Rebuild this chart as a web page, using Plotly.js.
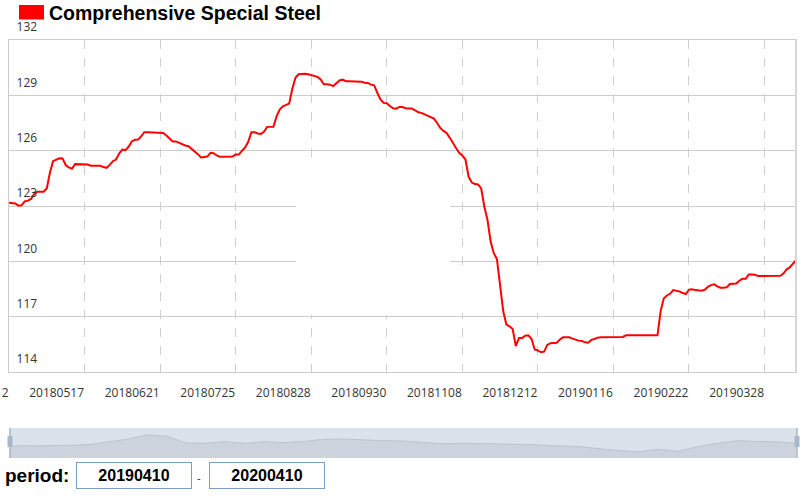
<!DOCTYPE html>
<html>
<head>
<meta charset="utf-8">
<script src="https://cdn.plot.ly/plotly-3.0.1.min.js"></script>
<style>
  html, body { margin: 0; padding: 0; background: #ffffff; }
  #chart { width: 809px; height: 498px; }
</style>
</head>
<body>
<div id="chart"></div>
<script>
// ---------------- data ----------------
const seriesName = "Comprehensive Special Steel";
const periodStart = "20190410";
const periodEnd = "20200410";

// trading-day index of each x tick, and its label
const tickIndex = [0, 24, 48, 72, 96, 120, 144, 168, 192, 216, 240];
const tickLabels = ["20180412", "20180517", "20180621", "20180725", "20180828", "20180930",
                    "20181108", "20181212", "20190116", "20190222", "20190328"];
const yTicks = [114, 117, 120, 123, 126, 129, 132];

// daily index values (one per trading day)
const values = [
  123.18, 123.18, 123.14, 123.02, 123.04, 123.25, 123.29, 123.38, 123.65, 123.77,
  123.77, 123.77, 123.95, 124.80, 125.43, 125.52, 125.59, 125.58, 125.22, 125.09,
  125.02, 125.27, 125.27, 125.27, 125.27, 125.25, 125.18, 125.18, 125.18, 125.18,
  125.11, 125.07, 125.23, 125.43, 125.52, 125.85, 126.06, 126.03, 126.21, 126.50,
  126.59, 126.60, 126.78, 127.00, 127.00, 127.00, 127.00, 127.00, 127.00, 126.96,
  126.82, 126.64, 126.50, 126.50, 126.42, 126.33, 126.28, 126.24, 126.10, 125.99,
  125.81, 125.63, 125.67, 125.68, 125.88, 125.86, 125.74, 125.67, 125.67, 125.67,
  125.67, 125.68, 125.79, 125.79, 125.99, 126.17, 126.48, 127.00, 127.00, 126.93,
  126.91, 127.02, 127.29, 127.30, 127.30, 127.86, 128.23, 128.41, 128.50, 128.55,
  129.36, 129.95, 130.14, 130.17, 130.17, 130.14, 130.10, 130.05, 130.00, 129.86,
  129.60, 129.60, 129.58, 129.50, 129.63, 129.81, 129.85, 129.77, 129.77, 129.77,
  129.77, 129.77, 129.74, 129.68, 129.67, 129.58, 129.54, 129.14, 128.78, 128.59,
  128.57, 128.42, 128.30, 128.28, 128.37, 128.37, 128.30, 128.28, 128.28, 128.19,
  128.08, 128.05, 127.97, 127.86, 127.79, 127.74, 127.50, 127.23, 127.07, 126.96,
  126.71, 126.39, 126.14, 125.88, 125.74, 125.52, 124.59, 124.28, 124.19, 124.17,
  123.95, 122.96, 122.24, 121.07, 120.44, 120.12, 118.64, 117.29, 116.57, 116.48,
  116.33, 115.40, 115.85, 115.85, 115.97, 115.99, 115.79, 115.22, 115.17, 115.07,
  115.10, 115.47, 115.56, 115.56, 115.59, 115.76, 115.88, 115.88, 115.88, 115.81,
  115.74, 115.70, 115.68, 115.61, 115.59, 115.74, 115.79, 115.86, 115.88, 115.88,
  115.88, 115.88, 115.88, 115.88, 115.88, 115.90, 115.99, 115.99, 115.99, 115.99,
  115.99, 115.99, 115.99, 115.99, 115.99, 115.99, 115.99, 117.30, 117.99, 118.15,
  118.24, 118.44, 118.42, 118.37, 118.28, 118.23, 118.46, 118.48, 118.44, 118.41,
  118.41, 118.46, 118.62, 118.71, 118.75, 118.64, 118.57, 118.57, 118.59, 118.77,
  118.78, 118.80, 118.95, 119.05, 119.05, 119.29, 119.29, 119.27, 119.20, 119.20,
  119.20, 119.20, 119.20, 119.20, 119.20, 119.22, 119.34, 119.56, 119.67, 119.86,
  120.06
];

// overview series drawn in the zoom slider (coarse, read from the slider silhouette)
const overviewValues = [
  116.0, 116.0, 116.3, 116.9, 117.8, 121.3, 124.9, 130.7, 129.3, 120.0,
  119.6, 121.8, 119.6, 121.8, 120.5, 122.2, 124.9, 125.3, 124.0, 123.1,
  122.7, 121.3, 119.1, 119.6, 118.7, 118.7, 118.2, 117.3, 116.4, 115.1,
  112.4, 109.8, 108.4, 111.6, 108.9, 115.1, 119.6, 123.1, 122.2, 121.8,
  119.6
];

// ---------------- layout helpers ----------------
const W = 809, H = 498;
const M = { l: 9, r: 13, t: 40, b: 40 };
const PW = W - M.l - M.r, PH = H - M.t - M.b;
const px = x => (x - M.l) / PW;          // pixel x -> paper x
const py = y => (H - M.b - y) / PH;      // pixel y -> paper y

const FONT_AX = "'Open Sans', 'DejaVu Sans', sans-serif";
const FONT_B = "'Liberation Sans', Arial, sans-serif";

const mainTrace = {
  type: "scatter", mode: "lines", name: seriesName,
  x: values.map((_, i) => i), y: values,
  xaxis: "x", yaxis: "y",
  line: { color: "#ff0000", width: 2 },
  hoverinfo: "skip"
};

const overviewTrace = {
  type: "scatter", mode: "lines",
  x: overviewValues.map((_, i) => i), y: overviewValues,
  xaxis: "x2", yaxis: "y2",
  fill: "tozeroy", fillcolor: "#cdd3dc",
  line: { color: "#bcc4cf", width: 1 },
  hoverinfo: "skip"
};

const mask = (x0, x1, y0, y1) => ({
  type: "rect", xref: "paper", yref: "paper", layer: "above",
  x0: px(x0), x1: px(x1), y0: py(y1), y1: py(y0),
  fillcolor: "#ffffff", line: { width: 0 }
});

const layout = {
  width: W, height: H,
  margin: M,
  paper_bgcolor: "#ffffff", plot_bgcolor: "rgba(0,0,0,0)",
  showlegend: false,
  xaxis: {
    domain: [0, 1], anchor: "y",
    range: [0, values.length - 1],
    tickmode: "array", tickvals: tickIndex, ticktext: tickLabels,
    showgrid: true, gridcolor: "#cfcfcf", griddash: "dash", gridwidth: 1,
    showline: true, mirror: true, linecolor: "#cccccc", linewidth: 1,
    zeroline: false, ticks: "",
    ticklabelposition: "outside left", ticklabeloverflow: "allow",
    ticklabelstandoff: 10,
    tickfont: { family: FONT_AX, size: 12, color: "#333333" },
    fixedrange: true
  },
  yaxis: {
    domain: [py(372), 1], anchor: "x",
    range: [114, 132],
    tickmode: "array", tickvals: yTicks,
    showgrid: true, gridcolor: "#cccccc", gridwidth: 1,
    showline: true, mirror: true, linecolor: "#cccccc", linewidth: 1,
    zeroline: false, ticks: "",
    ticklabelposition: "inside", ticklabeloverflow: "allow",
    ticklabelshift: -13, ticklabelstandoff: 7,
    tickfont: { family: FONT_AX, size: 12, color: "#333333" },
    fixedrange: true
  },
  xaxis2: {
    domain: [0, 1], anchor: "y2",
    range: [0, overviewValues.length - 1],
    visible: false, fixedrange: true
  },
  yaxis2: {
    domain: [0, py(428)], anchor: "x2",
    range: [100, 140],
    visible: false, fixedrange: true
  },
  shapes: [
    // faded tooltip areas that cover the grid (kept clear of the line)
    mask(296, 450, 157, 315),
    mask(453, 495, 268, 313),
    mask(508, 545, 268, 313),
    // thicker right border
    { type: "line", xref: "paper", yref: "paper", layer: "above",
      x0: 1, x1: 1, y0: py(372), y1: 1,
      line: { color: "#d6d6d6", width: 2 } },
    // slider background
    { type: "rect", xref: "paper", yref: "paper", layer: "below",
      x0: px(9), x1: px(797), y0: py(458), y1: py(428),
      fillcolor: "#dce2eb", line: { width: 0 } },
    // slider handles
    { type: "line", xref: "paper", yref: "paper", layer: "above",
      x0: px(10), x1: px(10), y0: py(458), y1: py(428),
      line: { color: "#a7b7cc", width: 1.5 } },
    { type: "rect", xref: "paper", yref: "paper", layer: "above",
      x0: px(7.5), x1: px(12.5), y0: py(447), y1: py(436),
      fillcolor: "#a7b7cc", line: { width: 0 } },
    { type: "line", xref: "paper", yref: "paper", layer: "above",
      x0: px(797), x1: px(797), y0: py(458), y1: py(428),
      line: { color: "#a7b7cc", width: 1.5 } },
    { type: "rect", xref: "paper", yref: "paper", layer: "above",
      x0: px(794.5), x1: px(799.5), y0: py(447), y1: py(436),
      fillcolor: "#a7b7cc", line: { width: 0 } },
    // legend swatch
    { type: "rect", xref: "paper", yref: "paper", layer: "above",
      x0: px(19), x1: px(44), y0: py(19.5), y1: py(5),
      fillcolor: "#ff0000", line: { width: 0 } }
  ],
  annotations: [
    { xref: "paper", yref: "paper", x: px(47), y: py(13), xanchor: "left", yanchor: "middle",
      text: seriesName, showarrow: false,
      font: { family: FONT_B, size: 19.5, weight: "bold", color: "#000000" } },
    { xref: "paper", yref: "paper", x: px(3), y: py(476), xanchor: "left", yanchor: "middle",
      text: "period:", showarrow: false,
      font: { family: FONT_B, size: 19, weight: "bold", color: "#000000" } },
    { xref: "paper", yref: "paper", x: px(134), y: py(475.5), xanchor: "center", yanchor: "middle",
      text: periodStart, showarrow: false, width: 114, height: 25,
      bordercolor: "#7f9cc2", borderwidth: 1, borderpad: 0, bgcolor: "#ffffff",
      font: { family: FONT_B, size: 16, weight: "bold", color: "#000000" } },
    { xref: "paper", yref: "paper", x: px(199), y: py(478), xanchor: "center", yanchor: "middle",
      text: "-", showarrow: false,
      font: { family: FONT_B, size: 11, color: "#333333" } },
    { xref: "paper", yref: "paper", x: px(267), y: py(475.5), xanchor: "center", yanchor: "middle",
      text: periodEnd, showarrow: false, width: 114, height: 25,
      bordercolor: "#7f9cc2", borderwidth: 1, borderpad: 0, bgcolor: "#ffffff",
      font: { family: FONT_B, size: 16, weight: "bold", color: "#000000" } }
  ]
};

Plotly.newPlot("chart", [overviewTrace, mainTrace], layout, { staticPlot: true, displayModeBar: false });
</script>
</body>
</html>
